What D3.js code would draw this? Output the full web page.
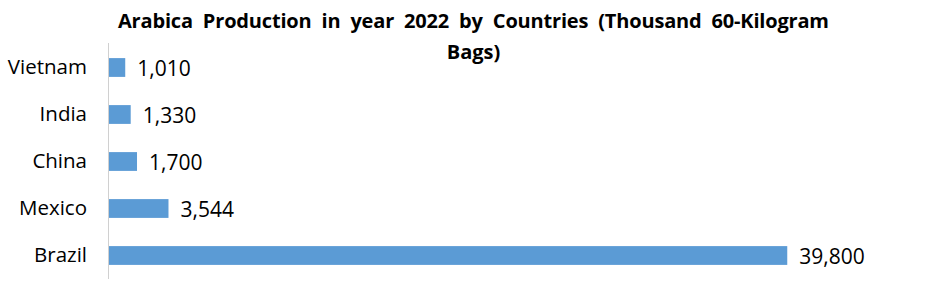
<!DOCTYPE html>
<html>
<head>
<meta charset="utf-8">
<script src="https://cdn.jsdelivr.net/npm/d3@7"></script>
<style>
  body { margin: 0; background: #fff; }
  svg { display: block; font-family: "Open Sans", "Liberation Sans", sans-serif; }
</style>
</head>
<body>
<svg width="946" height="288"></svg>
<script>
var countries = ["Vietnam", "India", "China", "Mexico", "Brazil"];
var production = [1010, 1330, 1700, 3544, 39800];
var titleLines = ["Arabica  Production  in  year  2022  by  Countries  (Thousand  60-Kilogram", "Bags)"];

var svg = d3.select("svg"),
  width = +svg.attr("width"),
  height = +svg.attr("height"),
  margin = { top: 43, right: 70, bottom: 10, left: 108 };

var x = d3.scaleLinear()
  .domain([0, 45000])
  .range([margin.left, margin.left + 768]);

var y = d3.scaleBand()
  .domain(countries)
  .range([44, 279])
  .paddingInner(0.6)
  .paddingOuter(0.3);

// title
svg.append("g")
  .selectAll("text")
  .data(titleLines)
  .enter().append("text")
  .attr("x", width / 2 + 0.5)
  .attr("y", function (d, i) { return 20 + i * 31; })
  .attr("text-anchor", "middle")
  .attr("dominant-baseline", "central")
  .attr("font-weight", "bold")
  .attr("font-size", 20)
  .attr("fill", "#000")
  .style("white-space", "pre")
  .each(function (d, i) {
    if (i === 0) d3.select(this).attr("textLength", 711).attr("lengthAdjust", "spacing");
  })
  .text(function (d) { return d; });

// bars
svg.append("g")
  .selectAll("rect")
  .data(production)
  .enter().append("rect")
  .attr("x", x(0))
  .attr("y", function (d, i) { return y(countries[i]); })
  .attr("width", function (d) { return x(d) - x(0); })
  .attr("height", y.bandwidth())
  .attr("fill", "#5b9bd5");

// value labels
svg.append("g")
  .selectAll("text")
  .data(production)
  .enter().append("text")
  .attr("x", function (d) { return x(d) + 12; })
  .attr("y", function (d, i) { return y(countries[i]) + y.bandwidth() / 2; })
  .attr("dominant-baseline", "central")
  .attr("font-size", 21)
  .attr("fill", "#000")
  .text(d3.format(","));

// category axis
var axis = svg.append("g")
  .attr("transform", "translate(" + x(0) + ",0)")
  .call(d3.axisLeft(y).tickSize(0).tickPadding(21));
axis.select(".domain").attr("stroke", "#d0d0d0").attr("d", "M0.5,43V279");
axis.selectAll("text")
  .attr("font-size", 20.5)
  .attr("font-family", "'Open Sans', 'Liberation Sans', sans-serif")
  .attr("fill", "#000");
</script>
</body>
</html>
